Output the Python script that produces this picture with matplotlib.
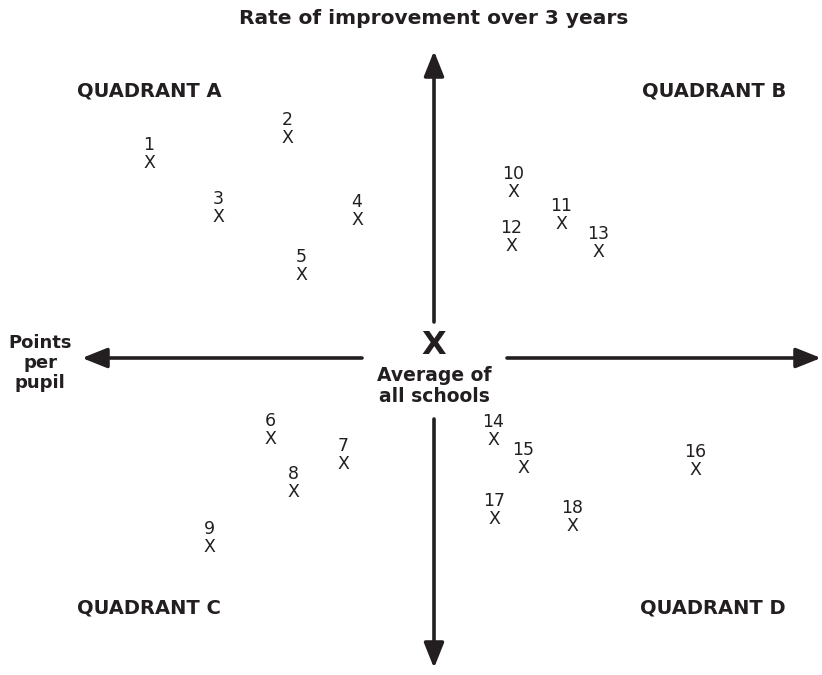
import matplotlib
matplotlib.use("Agg")
import matplotlib.pyplot as plt

INK = "#231f20"

# school positions on the diagram (x to the right, y downward)
school_ids = [str(i) for i in range(1, 19)]
school_x = [149, 287, 218, 357, 301, 270, 343, 293, 209,
            513, 561, 511, 598, 493, 523, 695, 494, 572]
school_y = [163, 138, 217, 220, 275, 439, 464, 492, 547,
            192, 224, 246, 252, 440, 468, 470, 519, 526]

centre = (434, 346)
quadrants = ["QUADRANT A", "QUADRANT B", "QUADRANT C", "QUADRANT D"]
title = "Rate of improvement over 3 years"
x_label = "Points\nper\npupil"
centre_label = "Average of\nall schools"

plt.rcParams['font.family'] = ['DejaVu Sans']

fig = plt.figure(figsize=(8.22, 6.75), dpi=100)
ax = fig.add_axes([0, 0, 1, 1])
ax.set_xlim(0, 822)
ax.set_ylim(675, 0)
ax.axis('off')

arrow_kw = dict(arrowstyle='-|>,head_length=0.95,head_width=0.38',
                lw=2.6, color=INK, mutation_scale=16, shrinkA=0, shrinkB=0)
cx, cy = centre
# vertical axis
ax.annotate('', xy=(cx, 51), xytext=(cx, 322), arrowprops=arrow_kw)
ax.annotate('', xy=(cx, 668), xytext=(cx, 419), arrowprops=arrow_kw)
# horizontal axis
ax.annotate('', xy=(82, 358), xytext=(362, 358), arrowprops=arrow_kw)
ax.annotate('', xy=(821, 358), xytext=(507, 358), arrowprops=arrow_kw)

# centre mark
ax.text(cx, cy, "X", ha='center', va='center', fontsize=23,
        fontweight='bold', color=INK)
ax.text(cx, 386, centre_label, ha='center', va='center', fontsize=13.5,
        fontweight='bold', color=INK, linespacing=1.08)

ax.text(cx, 18, title, ha='center', va='center', fontsize=14.5,
        fontweight='bold', color=INK)
ax.text(40, 363, x_label, ha='center', va='center', fontsize=13,
        fontweight='bold', color=INK, linespacing=1.15)

ax.text(77, 91, quadrants[0], ha='left', va='center', fontsize=14,
        fontweight='bold', color=INK)
ax.text(786, 91, quadrants[1], ha='right', va='center', fontsize=14,
        fontweight='bold', color=INK)
ax.text(77, 608, quadrants[2], ha='left', va='center', fontsize=14,
        fontweight='bold', color=INK)
ax.text(786, 608, quadrants[3], ha='right', va='center', fontsize=14,
        fontweight='bold', color=INK)

for sid, x, y in zip(school_ids, school_x, school_y):
    ax.text(x, y, "X", ha='center', va='center', fontsize=12.5, color=INK)
    ax.text(x, y - 18, sid, ha='center', va='center', fontsize=12.5, color=INK)

fig.savefig("out.png", dpi=100, facecolor='white')
